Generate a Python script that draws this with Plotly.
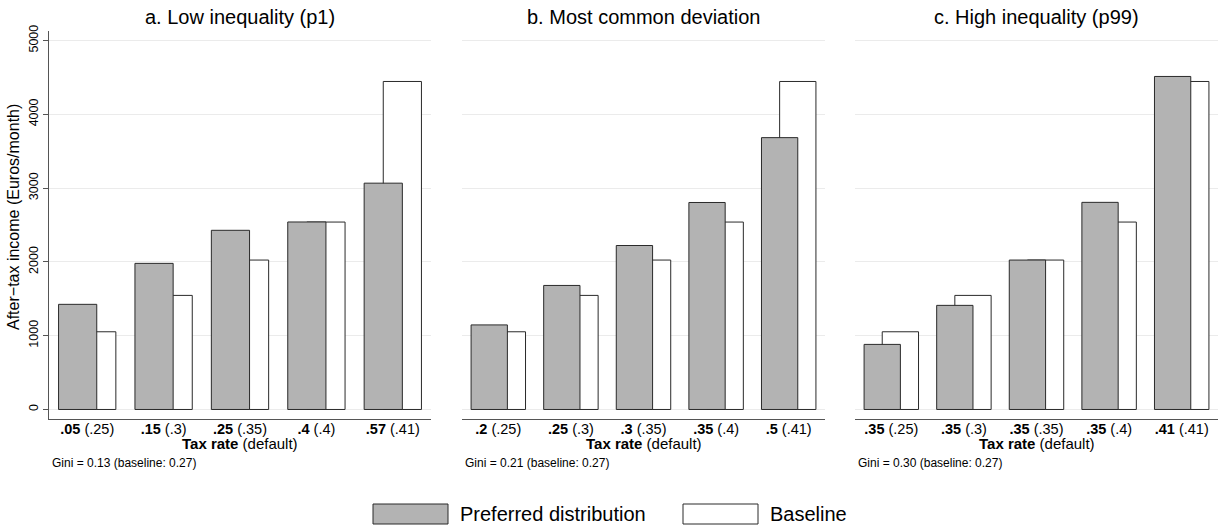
import plotly.graph_objects as go

# ---- data ----
panel_titles = ["a. Low inequality (p1)", "b. Most common deviation", "c. High inequality (p99)"]
preferred_rates = [
    [".05", ".15", ".25", ".4", ".57"],
    [".2", ".25", ".3", ".35", ".5"],
    [".35", ".35", ".35", ".35", ".41"],
]
default_rates = [".25", ".3", ".35", ".4", ".41"]
preferred_income = [
    [1425, 1980, 2428, 2541, 3067],
    [1146, 1681, 2222, 2805, 3684],
    [882, 1411, 2025, 2807, 4513],
]
baseline_income = [1053, 1546, 2025, 2540, 4445]
gini_values = ["0.13", "0.21", "0.30"]
gini_baseline = "0.27"
y_ticks = [0, 1000, 2000, 3000, 4000, 5000]

# ---- style ----
FONT = "Liberation Sans, Arial, Helvetica, sans-serif"
PREF_FILL = "#b3b3b3"
BASE_FILL = "#ffffff"
OUTLINE = "#2a2a2a"
GRID = "#ebebeb"
AXIS = "#555555"

W, H = 1225, 529
ML, MR, MT, MB = 49, 7, 31, 110
PW = W - ML - MR
PH = H - MT - MB

def px_x(p):
    return (p - ML) / PW

def px_y(p):
    return (H - MB - p) / PH

domains = [(49, 431), (462, 825), (855, 1218)]

fig = go.Figure()
for k in range(3):
    cats = [f"<b>{p}</b> ({d})" for p, d in zip(preferred_rates[k], default_rates)]
    xa = "x" if k == 0 else f"x{k+1}"
    ya = "y" if k == 0 else f"y{k+1}"
    fig.add_trace(go.Bar(
        x=cats, y=baseline_income, xaxis=xa, yaxis=ya,
        width=0.5, offset=-0.125,
        marker=dict(color=BASE_FILL, line=dict(color=OUTLINE, width=1)),
        name="Baseline", showlegend=False, hoverinfo="y",
    ))
    fig.add_trace(go.Bar(
        x=cats, y=preferred_income[k], xaxis=xa, yaxis=ya,
        width=0.5, offset=-0.375,
        marker=dict(color=PREF_FILL, line=dict(color=OUTLINE, width=1)),
        name="Preferred distribution", showlegend=False, hoverinfo="y",
    ))

layout = dict(
    width=W, height=H,
    margin=dict(l=ML, r=MR, t=MT, b=MB),
    paper_bgcolor="white", plot_bgcolor="white",
    barmode="overlay",
    font=dict(family=FONT, color="#000000"),
    showlegend=False,
)

yr = [-129, 5129]
for k in range(3):
    sfx = "" if k == 0 else str(k + 1)
    d0, d1 = domains[k]
    layout["xaxis" + sfx] = dict(
        domain=[px_x(d0), px_x(d1)], anchor="y" + sfx,
        range=[-0.5, 4.5], type="category",
        showline=True, linecolor=AXIS, linewidth=1.3,
        showgrid=False, ticks="", zeroline=False,
        tickfont=dict(size=14.5, family=FONT, color="#000"),
        ticklabelstandoff=-4,
    )
    layout["yaxis" + sfx] = dict(
        domain=[0, 1], anchor="x" + sfx, range=yr,
        tickvals=y_ticks, showgrid=True, gridcolor=GRID, gridwidth=1,
        zeroline=False,
        showline=(k == 0), linecolor=AXIS, linewidth=1.3,
        ticks="outside" if k == 0 else "", ticklen=5, tickcolor=AXIS,
        showticklabels=(k == 0), tickangle=-90,
        tickfont=dict(size=12.5, family=FONT, color="#000"),
        ticklabelstandoff=0,
    )
fig.update_layout(**layout)

ann = []
for k in range(3):
    d0, d1 = domains[k]
    ann.append(dict(text=panel_titles[k], x=px_x((d0 + d1) / 2), y=px_y(17),
                    xref="paper", yref="paper", showarrow=False,
                    xanchor="center", yanchor="middle",
                    font=dict(size=20, family=FONT, color="#000")))
    ann.append(dict(text="<b>Tax rate</b> (default)", x=px_x((d0 + d1) / 2), y=px_y(443.5),
                    xref="paper", yref="paper", showarrow=False,
                    xanchor="center", yanchor="middle",
                    font=dict(size=15, family=FONT, color="#000")))
    ann.append(dict(text=f"Gini = {gini_values[k]} (baseline: {gini_baseline})",
                    x=px_x(d0 + 1), y=px_y(462.5),
                    xref="paper", yref="paper", showarrow=False,
                    xanchor="left", yanchor="middle",
                    font=dict(size=12, family=FONT, color="#000")))
ann.append(dict(text="After\u2212tax income (Euros/month)", x=px_x(14), y=px_y(217),
                xref="paper", yref="paper", showarrow=False, textangle=-90,
                xanchor="center", yanchor="middle",
                font=dict(size=16, family=FONT, color="#000")))
# legend labels
ann.append(dict(text="Preferred distribution", x=px_x(458), y=px_y(514),
                xref="paper", yref="paper", showarrow=False,
                xanchor="left", yanchor="middle",
                font=dict(size=20, family=FONT, color="#000")))
ann.append(dict(text="Baseline", x=px_x(768), y=px_y(514),
                xref="paper", yref="paper", showarrow=False,
                xanchor="left", yanchor="middle",
                font=dict(size=20, family=FONT, color="#000")))

shapes = [
    dict(type="rect", xref="paper", yref="paper",
         x0=px_x(373), x1=px_x(448), y0=px_y(504), y1=px_y(524),
         fillcolor=PREF_FILL, line=dict(color=OUTLINE, width=1)),
    dict(type="rect", xref="paper", yref="paper",
         x0=px_x(683), x1=px_x(758), y0=px_y(504), y1=px_y(524),
         fillcolor=BASE_FILL, line=dict(color=OUTLINE, width=1)),
]
fig.update_layout(annotations=ann, shapes=shapes)

fig.write_html("out.html", config={"displayModeBar": False},
               post_script="document.body.style.margin='0';document.body.style.padding='0';")
